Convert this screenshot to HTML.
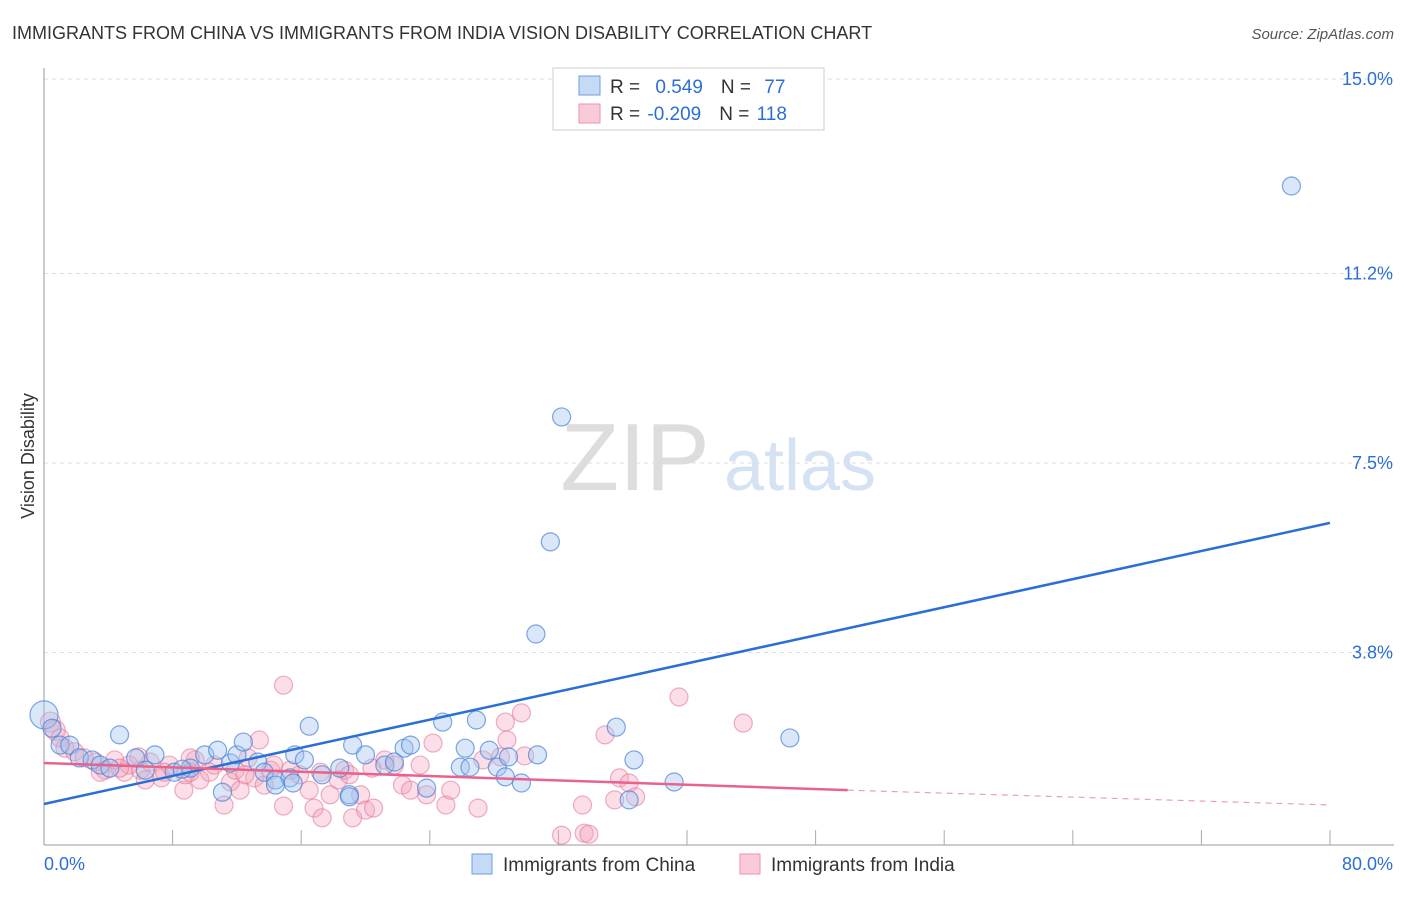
<!DOCTYPE html>
<html><head><meta charset="utf-8"><style>
body{margin:0;background:#fff;font-family:"Liberation Sans",sans-serif;}
svg text{font-family:"Liberation Sans",sans-serif;}
</style></head><body>
<svg id="c" width="1406" height="892" viewBox="0 0 1406 892">
<text x="12" y="39" font-size="18" fill="#333">IMMIGRANTS FROM CHINA VS IMMIGRANTS FROM INDIA VISION DISABILITY CORRELATION CHART</text>
<text x="1394" y="39" font-size="15" fill="#555" text-anchor="end" font-style="italic">Source: ZipAtlas.com</text>
<text x="34" y="456" font-size="18" fill="#333" text-anchor="middle" transform="rotate(-90 34 456)">Vision Disability</text>
<g>
<text x="635" y="490" font-size="96" fill="#ddd" font-family="Liberation Serif" text-anchor="middle">ZIP</text>
<text x="800" y="490" font-size="72" fill="#d4e2f4" text-anchor="middle">atlas</text>
</g>
<g id="grid"></g><g id="axes"></g><g id="pts"></g><g id="lines"></g>
<g>
<rect x="553" y="68" width="271" height="62" fill="#fff" stroke="#ccc"/>
<rect x="579" y="76" width="21" height="19" fill="#c5dbf5" stroke="#6a9fe0"/>
<rect x="579" y="104" width="21" height="19" fill="#f9cbd8" stroke="#ee93ad"/>
<text x="610" y="93" font-size="19" fill="#333">R = <tspan fill="#2a6fd6" dx="10">0.549</tspan><tspan fill="#333" dx="18">N = </tspan><tspan fill="#2a6fd6" dx="8">77</tspan></text>
<text x="610" y="120" font-size="19" fill="#333">R = <tspan fill="#2a6fd6" dx="2">-0.209</tspan><tspan fill="#333" dx="18">N = </tspan><tspan fill="#2a6fd6" dx="2">118</tspan></text>
</g>
<g>
<rect x="472" y="854" width="20" height="20" fill="#c5dbf5" stroke="#6a9fe0"/>
<text x="503" y="871" font-size="19" fill="#333">Immigrants from China</text>
<rect x="740" y="854" width="20" height="20" fill="#f9cbd8" stroke="#ee93ad"/>
<text x="771" y="871" font-size="19" fill="#333">Immigrants from India</text>
</g>
</svg>
<script>
const yTicks=[15.0,11.2,7.5,3.8];
const yTickLabels=["15.0%","11.2%","7.5%","3.8%"];
const xTickLabels=["0.0%","80.0%"];
const chinaX=[0,0.5,1.0,1.6,2.2,3.0,4.7,3.5,4.1,5.7,6.9,6.3,8.1,9.1,10.0,10.8,11.6,12.0,12.4,13.3,13.7,14.4,15.3,15.6,16.2,16.5,17.3,18.4,19.0,19.2,20.0,21.2,21.8,22.4,22.8,24.8,25.9,26.2,26.5,26.9,27.7,28.2,28.7,28.9,29.7,30.7,30.6,31.5,32.2,35.6,36.4,36.7,39.2,46.4,77.6,11.1,14.4,15.5,19.0,23.8,8.6];
const chinaY=[2.58,2.32,1.99,1.99,1.74,1.70,2.19,1.60,1.54,1.74,1.80,1.50,1.46,1.54,1.80,1.89,1.64,1.80,2.05,1.66,1.46,1.31,1.35,1.80,1.70,2.36,1.41,1.54,1.02,1.99,1.80,1.60,1.66,1.93,1.99,2.44,1.56,1.93,1.56,2.48,1.89,1.56,1.37,1.76,1.25,1.80,4.16,5.96,8.40,2.34,0.92,1.70,1.27,2.13,12.91,1.07,1.21,1.25,0.98,1.15,1.52];
const indiaX=[0.4,0.7,1.0,1.3,1.9,2.5,3.2,3.8,4.4,5.0,5.3,6.0,6.6,7.3,7.8,8.7,8.8,9.4,9.7,10.3,10.6,11.2,11.6,12.2,12.7,13.1,13.4,14.1,14.9,14.9,15.3,15.9,16.5,16.8,17.3,17.8,18.3,18.7,19.2,19.7,20.0,20.5,21.2,21.8,22.3,22.8,23.4,23.8,24.2,25.0,25.3,27.0,27.3,28.4,28.7,28.8,29.7,29.9,32.2,33.6,33.9,33.5,34.9,35.5,35.8,36.4,36.8,39.5,43.5,3.5,4.7,6.3,7.5,9.1,11.9,12.5,13.7,14.3,17.2,19.0,20.4,9.1,5.9];
const indiaY=[2.44,2.28,2.13,1.93,1.86,1.74,1.66,1.50,1.70,1.46,1.60,1.50,1.66,1.35,1.60,1.11,1.41,1.70,1.31,1.46,1.60,0.82,1.27,1.11,1.74,1.35,2.09,1.50,3.16,0.80,1.50,1.41,1.11,0.76,0.57,1.02,1.31,1.50,0.57,1.02,0.72,0.76,1.70,1.60,1.21,1.11,1.60,1.02,2.03,0.82,1.11,0.76,1.70,1.76,2.44,2.09,2.62,1.78,0.23,0.27,0.25,0.82,2.19,0.92,1.35,1.25,0.98,2.93,2.42,1.46,1.54,1.31,1.46,1.46,1.50,1.41,1.21,1.60,1.46,1.41,1.54,1.74,1.76];
const chinaTrend=[0.84,6.33];
const indiaTrend=[1.64,1.11,0.82];
const X0=44,X1=1330,Y0=847,YPX=192/3.75;
const sx=v=>X0+(v/80)*(X1-X0);
const sy=v=>Y0-v*YPX;
const NS="http://www.w3.org/2000/svg";
function mk(p,t,a){const e=document.createElementNS(NS,t);for(const k in a)e.setAttribute(k,a[k]);p.appendChild(e);return e;}
const grid=document.getElementById('grid'),axes=document.getElementById('axes'),pts=document.getElementById('pts'),lines=document.getElementById('lines');
yTicks.forEach((t,i)=>{
 const l=mk(grid,'line',{x1:X0,x2:1394,y1:sy(t),y2:sy(t),stroke:'#ddd','stroke-dasharray':'4,4'});
 
 
 const tx=mk(grid,'text',{x:1393,y:sy(t)+6,'font-size':18,fill:'#2a6fd6','text-anchor':'end'});
 tx.textContent=yTickLabels[i];
 
 
});
const ya=mk(axes,'line',{x1:X0,x2:X0,y1:68,y2:845,stroke:'#999'});


const xa=mk(axes,'line',{x1:X0,x2:1394,y1:845,y2:845,stroke:'#999'});


for(let v=8;v<=80;v+=8){
 const t=mk(axes,'line',{x1:sx(v),x2:sx(v),y1:830,y2:845,stroke:'#aaa'});
 
 
}
[[0,'start',X0],[80,'end',1393]].forEach((d,i)=>{
 const t=mk(axes,'text',{x:d[2],y:870,'font-size':18,fill:'#2a6fd6','text-anchor':d[1]});
 t.textContent=xTickLabels[i];
 
 
});
indiaX.forEach((x,i)=>{
 const c=mk(pts,'circle',{cx:sx(x),cy:sy(indiaY[i]),r:i<2?10:9,fill:'rgba(244,160,185,0.35)',stroke:'rgba(230,120,155,0.6)','stroke-width':1.2});
 
 
});
chinaX.forEach((x,i)=>{
 const c=mk(pts,'circle',{cx:sx(x),cy:sy(chinaY[i]),r:i==0?14:9,fill:'rgba(160,196,240,0.4)',stroke:'rgba(70,130,215,0.7)','stroke-width':1.2});
 
 
});
const bl=mk(lines,'line',{x1:sx(0),y1:sy(chinaTrend[0]),x2:sx(80),y2:sy(chinaTrend[1]),stroke:'#2a6fd6','stroke-width':2.5});


const pl=mk(lines,'line',{x1:sx(0),y1:sy(indiaTrend[0]),x2:sx(50),y2:sy(indiaTrend[1]),stroke:'#e8628c','stroke-width':2.5});


const pd=mk(lines,'line',{x1:sx(50),y1:sy(indiaTrend[1]),x2:sx(80),y2:sy(indiaTrend[2]),stroke:'#e8a0b8','stroke-width':1.2,'stroke-dasharray':'6,5'});


</script>
</body></html>
